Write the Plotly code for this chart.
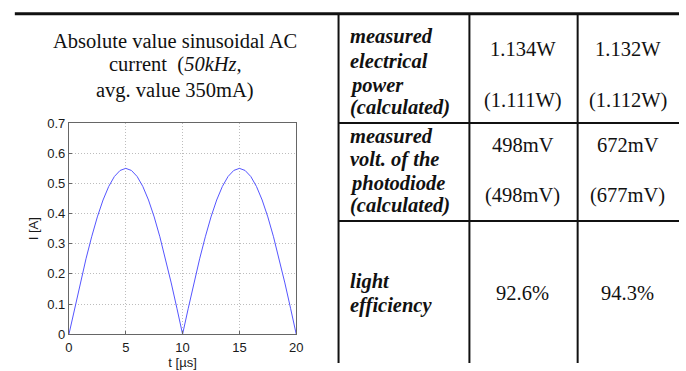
import plotly.graph_objects as go

W, H = 686, 371

# ---- data ----
t_us = [0, 0.5, 1, 1.5, 2, 2.5, 3, 3.5, 4, 4.5, 5, 5.5, 6, 6.5, 7, 7.5, 8, 8.5, 9, 9.5, 10,
        10.5, 11, 11.5, 12, 12.5, 13, 13.5, 14, 14.5, 15, 15.5, 16, 16.5, 17, 17.5, 18, 18.5, 19, 19.5, 20]
current_A = [0, 0.086, 0.170, 0.250, 0.323, 0.389, 0.445, 0.490, 0.523, 0.543, 0.550,
             0.543, 0.523, 0.490, 0.445, 0.389, 0.323, 0.250, 0.170, 0.086, 0,
             0.086, 0.170, 0.250, 0.323, 0.389, 0.445, 0.490, 0.523, 0.543, 0.550,
             0.543, 0.523, 0.490, 0.445, 0.389, 0.323, 0.250, 0.170, 0.086, 0]
x_ticks = [0, 5, 10, 15, 20]
y_ticks = [0, 0.1, 0.2, 0.3, 0.4, 0.5, 0.6, 0.7]

title_lines = ["Absolute value sinusoidal AC", "current  (<i>50kHz,</i>", "avg. value 350mA)"]
row_labels = [["measured", "electrical", "power", "(calculated)"],
              ["measured", "volt. of the", "photodiode", "(calculated)"],
              ["light", "efficiency"]]
col1_values = [["1.134W", "(1.111W)"], ["498mV", "(498mV)"], ["92.6%"]]
col2_values = [["1.132W", "(1.112W)"], ["672mV", "(677mV)"], ["94.3%"]]


def px(x):
    return x / W


def py(y):
    return 1 - y / H


fig = go.Figure()
fig.add_trace(go.Scatter(x=t_us, y=current_A, mode="lines",
                         line=dict(color="#5555ff", width=1), showlegend=False))

sans = "Liberation Sans, Arial, sans-serif"
axis_common = dict(showline=True, mirror=True, linecolor="#666666", linewidth=1,
                   showgrid=True, gridcolor="#bdbdbd", griddash="1px,2px", gridwidth=1,
                   ticks="inside", ticklen=3, tickcolor="#666666", zeroline=False,
                   tickfont=dict(family=sans, size=13, color="#1a1a1a"))

fig.update_layout(
    width=W, height=H, margin=dict(l=0, r=0, t=0, b=0),
    paper_bgcolor="white", plot_bgcolor="white",
    xaxis=dict(domain=[px(66), px(297)], range=[0, 20], tickvals=x_ticks,
               ticklabelstandoff=1,
               title=dict(text="t [µs]", standoff=2,
                          font=dict(family=sans, size=13, color="#1a1a1a")),
               **axis_common),
    yaxis=dict(domain=[py(341), py(121)], range=[0, 0.7], tickvals=y_ticks,
               ticktext=[("%g" % v) for v in y_ticks],
               title=dict(text="I [A]", standoff=5,
                          font=dict(family=sans, size=13, color="#1a1a1a")),
               **axis_common),
)

shapes = []
line_col = "#111111"
# top thick rule
shapes.append(dict(type="line", xref="paper", yref="paper", x0=px(11), x1=px(686), y0=py(7), y1=py(7),
                   line=dict(color=line_col, width=3)))
# vertical rules
for xv in [340, 473, 583]:
    shapes.append(dict(type="line", xref="paper", yref="paper", x0=px(xv), x1=px(xv), y0=py(8), y1=py(371),
                       line=dict(color=line_col, width=2)))
# horizontal row separators
for yv in [121, 223]:
    shapes.append(dict(type="line", xref="paper", yref="paper", x0=px(340), x1=px(686), y0=py(yv), y1=py(yv),
                       line=dict(color=line_col, width=2)))
fig.update_layout(shapes=shapes)

serif = "Liberation Serif, Times New Roman, serif"
ann = []
for line, yv in zip(title_lines, [35, 60, 87]):
    ann.append(dict(text=line, x=px(174), y=py(yv), xref="paper", yref="paper", showarrow=False,
                    xanchor="center", yanchor="middle", font=dict(family=serif, size=20.5, color="#111111")))

label_y = [[30, 56, 82, 105], [134, 159, 184, 207], [286, 311]]
for labels, ys in zip(row_labels, label_y):
    for lab, yv in zip(labels, ys):
        ann.append(dict(text="<b><i>%s</i></b>" % lab, x=px(350), y=py(yv), xref="paper", yref="paper",
                        showarrow=False, xanchor="left", yanchor="middle",
                        font=dict(family=serif, size=20.5, color="#111111")))

val_y = [[44, 97], [144, 196], [298]]
for col_vals, xc in [(col1_values, 527), (col2_values, 634)]:
    for vals, ys in zip(col_vals, val_y):
        for v, yv in zip(vals, ys):
            ann.append(dict(text=v, x=px(xc), y=py(yv), xref="paper", yref="paper", showarrow=False,
                            xanchor="center", yanchor="middle",
                            font=dict(family=serif, size=20.5, color="#111111")))
fig.update_layout(annotations=ann)

fig.write_html("out.html")
